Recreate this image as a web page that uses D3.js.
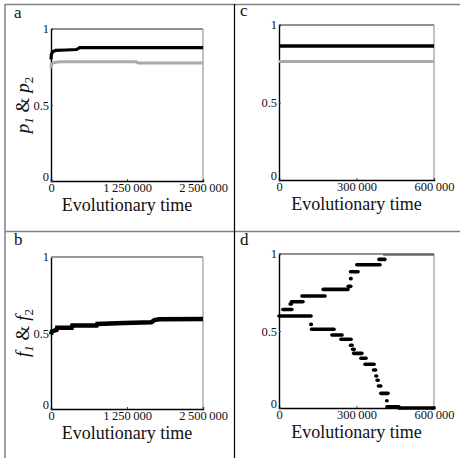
<!DOCTYPE html>
<html><head><meta charset="utf-8">
<script src="https://cdn.jsdelivr.net/npm/d3@7"></script>
<style>body{margin:0;background:#fff}svg{display:block}</style>
</head><body>
<script>
// ---- data ----
const yTicks = [0, 0.5, 1];
const xTicksLong = [0, 1250000, 2500000];
const xTicksShort = [0, 300000, 600000];
const xLabel = "Evolutionary time";

// panel a: p1 (black) and p2 (grey) over long run
const aP1 = [[0,0.80],[5000,0.83],[25000,0.85],[80000,0.86],[250000,0.862],[420000,0.865],[470000,0.877],[2500000,0.877]];
const aP2 = [[0,0.74],[8000,0.77],[60000,0.78],[150000,0.785],[1400000,0.785],[1430000,0.777],[2500000,0.777]];
// panel c
const cP1 = [[0,0.865],[600000,0.865]];
const cP2 = [[0,0.765],[600000,0.765]];
// panel b: f1 (black), f2 (grey)
const bF1 = [[0,0.49],[15000,0.51],[90000,0.52],[100000,0.535],[340000,0.535],[350000,0.55],[750000,0.55],[760000,0.56],[1200000,0.565],[1650000,0.57],[1700000,0.585],[1780000,0.59],[2500000,0.592]];
const bF2 = [[0,1],[2500000,1]];
// panel d: runs of sampled points [start, end, value]
const dUpper = [[15000,50000,0.64],[43000,48000,0.675],[48000,93000,0.69],[89000,178000,0.727],[171000,267000,0.77],[268000,278000,0.79],[277000,279000,0.84],[277000,306000,0.885],[301000,391000,0.93],[387000,410000,0.965]];
const dTop = [[403000,600000,0.995]];
const dLower = [[0,124000,0.597],[123000,125000,0.543],[126000,213000,0.511],[205000,244000,0.474],[240000,279000,0.446],[277000,283000,0.407],[285000,291000,0.381],[289000,321000,0.355],[317000,337000,0.323],[333000,368000,0.284],[366000,374000,0.247],[375000,378000,0.208],[380000,384000,0.18],[385000,394000,0.143],[394000,422000,0.095],[417000,418000,0.047],[418000,464000,0.008],[464000,600000,0.0]];

// ---- drawing ----
const FONT = "Liberation Serif";
const W = 460, H = 458;
const svg = d3.select("body").append("svg").attr("width", W).attr("height", H)
  .attr("font-family", FONT);

// panel separators
svg.append("line").attr("x1",5).attr("x2",460).attr("y1",4.5).attr("y2",4.5).attr("stroke","#808080").attr("stroke-width",1.5);
svg.append("line").attr("x1",5).attr("x2",5).attr("y1",4).attr("y2",458).attr("stroke","#808080").attr("stroke-width",1.5);
svg.append("line").attr("x1",5).attr("x2",460).attr("y1",231.5).attr("y2",231.5).attr("stroke","#808080").attr("stroke-width",1.5);
svg.append("line").attr("x1",234.5).attr("x2",234.5).attr("y1",4).attr("y2",458).attr("stroke","#000").attr("stroke-width",1.2);

const fmt = v => v === 0 ? "0" : d3.format(",")(v).replace(/,/g, "\u2009");

function panel(opt) {
  const g = svg.append("g");
  const x = d3.scaleLinear().domain(opt.xdom).range([opt.x0, opt.x1]);
  const y = d3.scaleLinear().domain([0,1]).range([opt.y1, opt.y0]);
  // frame
  g.append("line").attr("x1",opt.x0).attr("x2",opt.x1).attr("y1",opt.y0).attr("y2",opt.y0).attr("stroke","#222").attr("stroke-width",1);
  g.append("line").attr("x1",opt.x1).attr("x2",opt.x1).attr("y1",opt.y0).attr("y2",opt.y1).attr("stroke","#999").attr("stroke-width",1.2);
  // axes
  const ax = g.append("g").attr("transform",`translate(0,${opt.y1})`)
    .call(d3.axisBottom(x).tickValues(opt.xticks).tickSize(-2).tickPadding(2).tickFormat(fmt));
  const ay = g.append("g").attr("transform",`translate(${opt.x0},0)`)
    .call(d3.axisLeft(y).tickValues(yTicks).tickSize(-2).tickPadding(2).tickFormat(d => d===0?"0":d===1?"1":"0.5"));
  [ax, ay].forEach(a => {
    a.attr("font-family", FONT).attr("font-size", 12.5);
    a.select(".domain").attr("stroke","#000").attr("stroke-width",1.4);
    a.selectAll(".tick line").attr("stroke","#444");
    a.selectAll("text").attr("fill","#111").attr("font-family", FONT);
  });
  ay.selectAll(".tick").filter(d => d===0).select("text").attr("dy","-0.05em");
  ay.selectAll(".tick").filter(d => d===1).select("text").attr("dy","0.25em");
  // series lines
  (opt.lines||[]).forEach(s => {
    g.append("path").datum(s.data)
      .attr("d", d3.line().x(d => x(d[0])).y(d => y(d[1])))
      .attr("fill","none").attr("stroke",s.color).attr("stroke-width",s.w);
  });
  (opt.runs||[]).forEach(s => {
    g.selectAll(null).data(s.data).enter().append("line")
      .attr("x1",d => x(d[0])).attr("x2",d => x(d[1]))
      .attr("y1",d => y(d[2])).attr("y2",d => y(d[2]))
      .attr("stroke",s.color).attr("stroke-width",s.w).attr("stroke-linecap",s.cap||"round");
  });
  // x label
  g.append("text").attr("x",(opt.x0+opt.x1)/2).attr("y",opt.y1+30).attr("text-anchor","middle")
    .attr("font-family",FONT).attr("font-size",18).attr("fill","#111").text(xLabel);
  // panel letter
  g.append("text").attr("x",opt.lx).attr("y",opt.ly).attr("font-family",FONT).attr("font-size",17).attr("fill","#111").text(opt.letter);
  // y label
  if (opt.ylab) {
    const t = g.append("text").attr("transform",`translate(${opt.x0-22},${(opt.y0+opt.y1)/2}) rotate(-90)`)
      .attr("text-anchor","middle").attr("font-family",FONT).attr("font-size",19).attr("fill","#111");
    const v = opt.ylab;
    t.append("tspan").attr("font-style","italic").text(v);
    t.append("tspan").attr("font-size",13).attr("font-style","italic").attr("dy",4).text("1");
    t.append("tspan").attr("dy",-4).text(" & ");
    t.append("tspan").attr("font-style","italic").text(v);
    t.append("tspan").attr("font-size",13).attr("dy",4).text("2");
  }
}

panel({letter:"a", lx:14, ly:18, x0:51, x1:203, y0:29, y1:181, xdom:[0,2500000], xticks:xTicksLong, ylab:"p",
  lines:[{data:aP2,color:"#aaaaaa",w:3},{data:aP1,color:"#000",w:3.2}]});
panel({letter:"c", lx:240, ly:16, x0:279, x1:434, y0:25, y1:180, xdom:[0,600000], xticks:xTicksShort,
  lines:[{data:cP2,color:"#aaaaaa",w:3},{data:cP1,color:"#000",w:3.5}]});
panel({letter:"b", lx:14, ly:245, x0:51, x1:203, y0:257, y1:409, xdom:[0,2500000], xticks:xTicksLong, ylab:"f",
  lines:[{data:bF2,color:"#999",w:2},{data:bF1,color:"#000",w:4.5}]});
panel({letter:"d", lx:240, ly:245, x0:279, x1:434, y0:254, y1:408, xdom:[0,600000], xticks:xTicksShort,
  runs:[{data:dTop,color:"#666",w:2,cap:"butt"},{data:dUpper,color:"#000",w:3.6},{data:dLower,color:"#000",w:3.6}]});
</script>
</body></html>
